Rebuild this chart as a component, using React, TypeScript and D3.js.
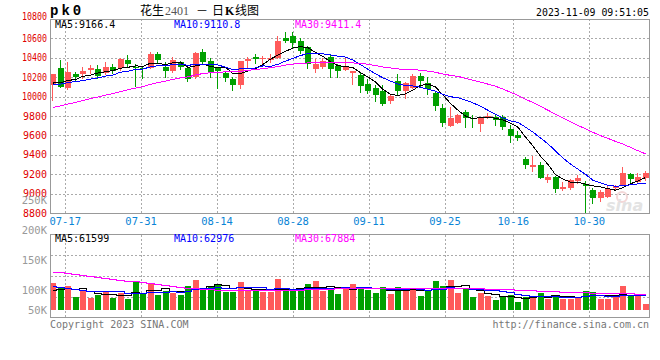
import React from 'react';
import * as d3 from 'd3';

// ---------- data ----------
const dates = [
  '07-13','07-14','07-17','07-18','07-19','07-20','07-21','07-24','07-25','07-26',
  '07-27','07-28','07-31','08-01','08-02','08-03','08-04','08-07','08-08','08-09',
  '08-10','08-11','08-14','08-15','08-16','08-17','08-18','08-21','08-22','08-23',
  '08-24','08-25','08-28','08-29','08-30','08-31','09-01','09-04','09-05','09-06',
  '09-07','09-08','09-11','09-12','09-13','09-14','09-15','09-18','09-19','09-20',
  '09-21','09-22','09-25','09-26','09-27','09-28','10-09','10-10','10-11','10-12',
  '10-13','10-16','10-17','10-18','10-19','10-20','10-23','10-24','10-25','10-26',
  '10-27','10-30','10-31','11-01','11-02','11-03','11-06','11-07','11-08','11-09',
];
const opens = [
  10120,10292,10092,10233,10233,10271,10284,10240,10302,10298,
  10377,10305,10298,10300,10436,10308,10267,10354,10298,10205,
  10463,10370,10292,10240,10178,10120,10370,10411,10384,10374,
  10401,10607,10625,10576,10508,10284,10308,10411,10315,10270,
  10240,10223,10127,10092,10058,9958,10161,10058,10085,10216,
  10137,10041,9880,9700,9731,9845,9783,9714,9776,9793,
  9793,9666,9604,9354,9277,9295,9140,9174,9047,9054,
  9130,9099,9037,8952,8968,9058,9089,9199,9123,9164,
];
const highs = [
  10233,10377,10360,10257,10308,10326,10326,10354,10333,10395,
  10429,10340,10319,10460,10460,10354,10411,10370,10319,10460,
  10488,10395,10302,10257,10205,10367,10405,10439,10418,10436,
  10625,10669,10669,10600,10522,10384,10395,10429,10333,10395,
  10267,10240,10178,10120,10120,10017,10233,10154,10233,10240,
  10205,10051,9921,9896,9820,9862,9810,9793,9827,9810,
  9810,9707,9645,9381,9391,9322,9202,9181,9123,9147,
  9192,9130,9054,9037,9089,9090,9274,9209,9209,9233,
];
const lows = [
  9970,10095,10075,10170,10190,10247,10189,10230,10247,10278,
  10319,10105,10189,10290,10350,10205,10257,10285,10164,10195,
  10333,10205,10085,10164,10068,10092,10308,10343,10343,10360,
  10395,10566,10504,10450,10298,10250,10298,10205,10205,10270,
  10130,10044,10034,9958,9913,9937,10024,9989,10085,10102,
  10024,9862,9697,9700,9731,9690,9690,9649,9776,9707,
  9662,9535,9555,9267,9233,9164,9123,9020,9037,9047,
  9106,8800,8906,8927,8962,9040,9089,9099,9116,9140,
];
const closes = [
  10233,10102,10250,10199,10264,10292,10216,10308,10267,10384,
  10336,10290,10281,10436,10377,10267,10377,10308,10181,10446,
  10360,10250,10267,10189,10120,10367,10384,10384,10401,10395,
  10576,10576,10556,10473,10336,10336,10367,10284,10267,10302,
  10267,10113,10058,10017,9921,10006,10058,10137,10216,10161,
  10075,9906,9725,9783,9810,9776,9769,9783,9800,9759,
  9690,9597,9576,9295,9295,9164,9174,9044,9071,9140,
  9157,9078,8952,9020,9047,9078,9216,9147,9168,9216,
];
const volumes = [
  116400,99100,104700,56000,80600,51700,63400,83200,51700,73300,
  47400,120700,70300,116400,65900,80600,73300,65900,104700,130600,
  94800,104700,112100,77600,77600,119400,80600,83200,76300,76300,
  134900,80600,80600,87500,112100,126300,83200,90500,69000,97800,
  112100,99100,84900,73300,99100,69000,99100,90500,90500,61600,
  80600,126300,104700,130600,73300,90500,56000,73300,61600,44400,
  56000,65900,34500,56000,59100,73300,48700,65900,48700,48700,
  51700,83200,77600,48700,48700,59100,104700,59100,59100,25900,
];
// sessions before 07-13, estimated from where the MA lines start
const warmupCloses = [
  9650,9680,9700,9660,9720,9740,9710,9760,9780,9750,
  9790,9810,9780,9820,9840,9810,9850,9870,9860,9900,
  10020,10080,10110,10150,10140,10090,10130,10150,10097,
];
const warmupVolumes = [
  170000,195000,160000,210000,185000,175000,200000,165000,190000,171000,
  220000,195000,210000,190000,215000,200000,203000,210000,196000,200000,
  140000,125000,110000,105000,105000,80000,70000,78000,70600,
];
const priceTicks = [10800,10600,10400,10200,10000,9800,9600,9400,9200,9000,8800];
const dateTicks = ['07-17','07-31','08-14','08-28','09-11','09-25','10-16','10-30'];
const volTickValues = [250000,200000,150000,100000,50000];
const volTickLabels = ['250K','200K','150K','100K','50K'];
const maPeriods = [5,10,30];
const maColors = ['#000000','#0000ff','#ff00ff'];
const priceLegend = ['MA5:9166.4','MA10:9110.8','MA30:9411.4'];
const volLegend = ['MA5:61599','MA10:62976','MA30:67884'];
const legendX = [55,174,295];

// ---------- layout ----------
const W = 660, H = 360;
const PL = 50.5, PR = 649.5;
const PT = 19, PB = 213;
const VT = 234.5, VB = 317.5, VBASE = 310;
const RED = '#ff5a5a', GREEN = '#00a000';
const MONO = 'DejaVu Sans Mono, monospace';

function movingAvg(series: number[], warm: number[], p: number) {
  const all = warm.concat(series);
  return series.map((_, i) => {
    const end = warm.length + i + 1;
    return d3.mean(all.slice(end - p, end)) as number;
  });
}

export default function App() {
  const x = d3.scaleBand<string>().domain(dates).range([49.25, 649.25]).padding(0);
  const xp = d3.scalePoint<string>().domain(dates).range([50, 650]);
  const y = d3.scaleLinear().domain([8800, 10800]).range([PB, PT]);
  const vy = d3.scaleLinear().domain([0, 327600]).range([VBASE, 234]);
  const vLabel = d3.scaleLinear().domain([100000, 250000]).range([290.7, 200]);

  const cx = (i: number) => (x(dates[i]) as number) + x.bandwidth() / 2;
  const bodyX = (i: number) => Math.round(cx(i) - 3);

  const priceMA = maPeriods.map((p) => movingAvg(closes, warmupCloses, p));
  const volMA = maPeriods.map((p) => movingAvg(volumes, warmupVolumes, p));

  const pLine = d3.line<number>().x((_, i) => cx(i)).y((d) => y(d));
  const vLine = d3.line<number>().x((_, i) => cx(i)).y((d) => vy(d)).curve(d3.curveStep);

  const volGridYs = d3.range(1, 4).map((k) => Math.round(VT + ((VB - VT) * k) / 4) + 0.5);

  return (
    <svg width={W} height={H} style={{ position: 'absolute', left: 0, top: 0, background: '#fff' }}
      shapeRendering="crispEdges">
      <rect x={0} y={0} width={W} height={H} fill="#fff" />
      {/* title */}
      <text x={50} y={15} fontFamily="Liberation Mono, monospace" fontWeight="bold" fontSize={14}
        letterSpacing={3} fill="#000">pk0</text>
      <text y={15} fontSize={12} fontFamily="Noto Sans CJK SC" fill="#000">
        <tspan x={140}>花生</tspan>
        <tspan x={165} fill="#555" fontFamily="Liberation Serif, serif">2401</tspan>
        <tspan x={196}>－</tspan>
        <tspan x={212}>日</tspan>
        <tspan x={225} fontWeight="bold" fontFamily="Liberation Serif, serif">K</tspan>
        <tspan x={235}>线图</tspan>
      </text>
      <text x={649} y={16} textAnchor="end" fontFamily={MONO} fontSize={11} textLength={113}
        lengthAdjust="spacingAndGlyphs" fill="#000">2023-11-09 09:51:05</text>

      {/* price grid */}
      {priceTicks.slice(1, -1).map((p) => (
        <line key={'pg' + p} x1={PL} x2={PR} y1={Math.round(y(p)) + 0.5} y2={Math.round(y(p)) + 0.5}
          stroke="#aaa" strokeDasharray="2,2" />
      ))}
      {dateTicks.map((d) => {
        const gx = Math.round(xp(d) as number) + 0.5;
        return (
          <g key={'vg' + d}>
            <line x1={gx} x2={gx} y1={PT} y2={PB} stroke="#aaa" strokeDasharray="2,2" />
            <line x1={gx} x2={gx} y1={VT} y2={VB} stroke="#aaa" strokeDasharray="2,2" />
          </g>
        );
      })}
      {volGridYs.map((gy) => (
        <line key={'vgy' + gy} x1={PL} x2={PR} y1={gy} y2={gy} stroke="#aaa" strokeDasharray="2,2" />
      ))}

      {/* watermark */}
      <g opacity={0.5}>
        <circle cx={622} cy={197} r={5} fill="none" stroke="#e8b0b0" strokeWidth={2} shapeRendering="auto" />
        <text x={606} y={211} fontFamily="DejaVu Sans, sans-serif" fontStyle="italic" fontWeight="bold"
          fontSize={16} fill="#c8c8c8">sina</text>
      </g>

      {/* candles */}
      {dates.map((d, i) => {
        const up = closes[i] >= opens[i];
        const col = up ? RED : GREEN;
        const top = Math.round(y(Math.max(opens[i], closes[i])));
        const bot = Math.round(y(Math.min(opens[i], closes[i])));
        const bx = bodyX(i);
        return (
          <g key={'c' + d}>
            <line x1={bx + 2.5} x2={bx + 2.5} y1={Math.round(y(highs[i]))} y2={Math.round(y(lows[i])) + 1}
              stroke={col} />
            <rect x={bx} y={top} width={6} height={Math.max(1, bot - top)} fill={col} />
          </g>
        );
      })}

      {/* price MAs */}
      {priceMA.map((s, k) => (
        <path key={'pma' + k} d={pLine(s) as string} fill="none" stroke={maColors[k]} strokeWidth={1} />
      ))}

      {/* price border */}
      <rect x={PL} y={PT + 0.5} width={PR - PL} height={PB - PT} fill="none" stroke="#999" />

      {/* price legend */}
      {priceLegend.map((t, k) => (
        <text key={'pl' + k} x={legendX[k]} y={28} fontFamily={MONO} fontSize={10} fill={maColors[k]}>{t}</text>
      ))}

      {/* price axis labels */}
      {priceTicks.map((p, k) => (
        <text key={'pt' + p} x={47} y={k === 0 ? y(p) + 0.5 : y(p) + 3.5} textAnchor="end" fontFamily={MONO}
          fontSize={10.5} fill="#e00000" textLength={p >= 10000 ? 25 : 24} lengthAdjust="spacingAndGlyphs">{p}</text>
      ))}

      {/* date labels */}
      {dateTicks.map((d) => (
        <text key={'dl' + d} x={xp(d) as number} y={225} textAnchor="middle" fontFamily={MONO} fontSize={10.5}
          fill="#0a84d6">{d}</text>
      ))}

      {/* volume bars */}
      {dates.map((d, i) => {
        const up = closes[i] >= opens[i];
        const top = Math.round(vy(volumes[i]));
        return <rect key={'v' + d} x={bodyX(i)} y={top} width={6} height={VBASE - top} fill={up ? RED : GREEN} />;
      })}
      {volMA.map((s, k) => (
        <path key={'vma' + k} d={vLine(s) as string} fill="none" stroke={maColors[k]} strokeWidth={1} />
      ))}
      <rect x={PL} y={VT} width={PR - PL} height={VB - VT} fill="none" stroke="#999" />

      {/* volume legend */}
      {volLegend.map((t, k) => (
        <text key={'vl' + k} x={legendX[k]} y={242} fontFamily={MONO} fontSize={10} fill={maColors[k]}>{t}</text>
      ))}
      {/* volume axis labels */}
      {volTickValues.map((v, k) => (
        <text key={'vt' + v} x={47} y={Math.min(vLabel(v), 310) + 3.7} textAnchor="end" fontFamily={MONO}
          fontSize={10.5} fill="#999">{volTickLabels[k]}</text>
      ))}

      {/* footer */}
      <text x={50} y={328} fontFamily={MONO} fontSize={10} fill="#777">Copyright 2023 SINA.COM</text>
      <text x={649} y={328} textAnchor="end" fontFamily={MONO} fontSize={10} fill="#777">http://finance.sina.com.cn</text>
    </svg>
  );
}
